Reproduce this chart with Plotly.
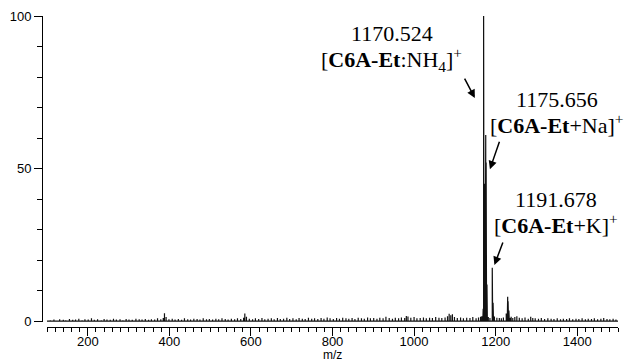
import plotly.graph_objects as go

# ---- data ----
noise_mz = [
    100, 108, 117, 123, 131, 140, 146, 155, 163, 170,
    178, 186, 193, 201, 209, 216, 224, 233, 240, 247,
    255, 263, 270, 279, 286, 294, 301, 309, 318, 326,
    333, 341, 349, 356, 364, 371, 379, 385, 388, 392,
    399, 407, 414, 422, 430, 437, 445, 452, 460, 468,
    475, 483, 491, 498, 506, 514, 521, 529, 537, 544,
    552, 560, 567, 575, 582, 585, 589, 596, 604, 611,
    619, 627, 634, 642, 650, 657, 665, 672, 680, 688,
    695, 703, 711, 718, 726, 733, 741, 749, 756, 764,
    772, 779, 787, 794, 802, 810, 817, 825, 833, 840,
    848, 855, 863, 871, 878, 886, 893, 901, 909, 916,
    924, 931, 939, 947, 954, 962, 969, 977, 981, 985,
    992, 1000, 1007, 1015, 1023, 1030, 1038, 1045, 1053, 1061,
    1068, 1076, 1082, 1086, 1090, 1094, 1099, 1106, 1114, 1121,
    1129, 1137, 1144, 1152, 1158, 1163, 1166, 1182, 1186, 1197,
    1203, 1209, 1214, 1219, 1238, 1242, 1247, 1252, 1258, 1265,
    1272, 1280, 1286, 1291, 1297, 1305, 1312, 1320, 1328, 1336,
    1343, 1351, 1359, 1366, 1374, 1381, 1389, 1397, 1404, 1412,
    1420, 1427, 1435, 1442, 1450, 1458, 1465, 1473, 1480, 1488,
    1495, 1500,
]
noise_int = [
    0.0, 0.3, 0.5, 0.2, 0.6, 0.4, 0.3, 0.7, 0.4, 0.5,
    0.8, 0.3, 0.6, 0.5, 0.9, 0.4, 0.6, 0.3, 0.7, 0.5,
    0.4, 0.8, 0.5, 0.6, 0.3, 0.7, 0.5, 0.4, 0.8, 0.6,
    0.5, 0.7, 0.4, 0.6, 0.5, 0.9, 0.6, 1.0, 2.6, 1.3,
    0.6, 0.8, 0.5, 0.7, 0.4, 0.9, 0.6, 0.5, 0.8, 0.7,
    0.5, 0.9, 0.6, 0.7, 0.5, 0.8, 0.6, 0.9, 0.7, 0.5,
    0.8, 0.6, 0.9, 0.7, 1.1, 2.5, 1.4, 0.8, 0.6, 0.9,
    0.7, 1.0, 0.6, 0.8, 0.9, 0.6, 1.0, 0.7, 0.8, 1.1,
    0.7, 0.9, 0.6, 1.0, 0.8, 0.7, 1.1, 0.8, 0.9, 0.7,
    1.0, 0.8, 1.2, 0.9, 0.7, 1.0, 0.8, 1.1, 0.9, 0.8,
    1.0, 0.7, 1.1, 0.9, 0.8, 1.2, 0.9, 1.0, 0.8, 1.1,
    0.9, 1.4, 1.0, 0.8, 1.1, 0.9, 1.2, 1.0, 1.7, 1.5,
    1.1, 1.3, 0.9, 1.0, 1.2, 0.9, 1.1, 1.0, 1.3, 1.1,
    1.0, 1.2, 1.6, 2.4, 1.9, 2.2, 1.3, 1.0, 1.2, 0.9,
    1.1, 1.0, 1.3, 0.9, 1.2, 1.4, 1.6, 1.3, 1.0, 1.5,
    1.1, 1.0, 0.9, 1.2, 1.4, 1.0, 1.3, 1.6, 1.1, 0.9,
    1.2, 0.8, 1.4, 1.0, 0.9, 0.8, 1.0, 0.7, 0.9, 0.8,
    0.7, 0.9, 0.6, 0.8, 0.7, 0.9, 0.6, 0.8, 0.7, 0.9,
    0.6, 0.8, 0.7, 0.9, 0.6, 0.8, 1.0, 0.7, 0.6, 0.8,
    0.5, 0.0,
]
ion_mz = [1168.5, 1169.5, 1170.5, 1171.5, 1172.5, 1173.5, 1174.5,
          1175.7, 1176.7, 1177.7, 1178.7, 1179.7,
          1191.7, 1192.7, 1193.7, 1194.7,
          1226.0, 1228.5, 1229.5, 1230.5, 1231.5, 1232.5, 1233.5, 1235.0]
ion_int = [1.5, 4.0, 100.0, 85.0, 45.0, 18.0, 8.0,
           61.0, 52.0, 30.0, 12.0, 4.0,
           17.5, 13.0, 6.0, 2.0,
           2.5, 3.0, 8.0, 6.5, 5.0, 3.5, 2.0, 1.0]

peak_labels = [
    ("1170.524", "[<b>C6A-Et</b>:NH<sub>4</sub>]<sup>+</sup>"),
    ("1175.656", "[<b>C6A-Et</b>+Na]<sup>+</sup>"),
    ("1191.678", "[<b>C6A-Et</b>+K]<sup>+</sup>"),
]
label_x = [945, 1350, 1348]
label_num_y = [94.4, 72.5, 40.0]
label_ion_y = [85.6, 64.6, 31.8]
arrow_tip_x = [1149, 1186, 1197]
arrow_tip_y = [73.1, 49.8, 18.4]
arrow_dx = [-11, 10, 9]
arrow_dy = [-21, -29, -24]

x_title = "m/z"
x_range = [100, 1500]
y_range = [-0.3, 100]

# ---- build stick spectrum ----
pairs = sorted(zip(noise_mz + ion_mz, noise_int + ion_int))
xs, ys = [], []
for m, h in pairs:
    xs += [m, m, m]
    ys += [0, h, 0]

fig = go.Figure()
fig.add_trace(go.Scatter(x=xs, y=ys, mode="lines",
                         line=dict(color="#111111", width=1.2),
                         hoverinfo="skip"))

serif = dict(family="Liberation Serif", size=22, color="black")
ann = []
for i, (num, ion) in enumerate(peak_labels):
    ann.append(dict(x=label_x[i], y=label_num_y[i], xref="x", yref="y",
                    text=num, showarrow=False, font=serif,
                    xanchor="center", yanchor="middle"))
    ann.append(dict(x=label_x[i], y=label_ion_y[i], xref="x", yref="y",
                    text=ion, showarrow=False, font=serif,
                    xanchor="center", yanchor="middle"))
    ann.append(dict(x=arrow_tip_x[i], y=arrow_tip_y[i], xref="x", yref="y",
                    text="", showarrow=True, ax=arrow_dx[i], ay=arrow_dy[i],
                    arrowhead=2, arrowsize=1.1, arrowwidth=1.5,
                    arrowcolor="black", standoff=0))
# x-axis title placed under the tick labels
ann.append(dict(x=800, y=-0.09, xref="x", yref="paper", text=x_title,
                showarrow=False, xanchor="center", yanchor="middle",
                font=dict(family="Liberation Sans", size=12, color="black")))

sans = dict(family="Liberation Sans", size=13, color="black")
fig.update_layout(
    width=631, height=362,
    margin=dict(l=42, r=13, t=16, b=35),
    plot_bgcolor="white", paper_bgcolor="white",
    showlegend=False,
    annotations=ann,
    xaxis=dict(domain=[0.0087, 1], range=x_range, anchor="free", position=0,
               automargin=False,
               showline=True, linecolor="black", linewidth=1,
               ticks="outside", ticklen=8, tickcolor="black", tickwidth=1,
               tick0=0, dtick=200, showgrid=False, zeroline=False,
               tickfont=sans, ticklabelstandoff=-6,
               minor=dict(dtick=20, ticklen=4, ticks="outside",
                          tickcolor="black", tickwidth=1, showgrid=False)),
    yaxis=dict(domain=[0.0161, 1], range=y_range, anchor="free", position=0,
               automargin=False,
               showline=True, linecolor="black", linewidth=1,
               ticks="outside", ticklen=8, tickcolor="black", tickwidth=1,
               tick0=0, dtick=50, showgrid=False, zeroline=False,
               tickfont=sans,
               minor=dict(dtick=10, ticklen=5, ticks="outside",
                          tickcolor="black", tickwidth=1, showgrid=False)),
)

fig.write_html("out.html")
